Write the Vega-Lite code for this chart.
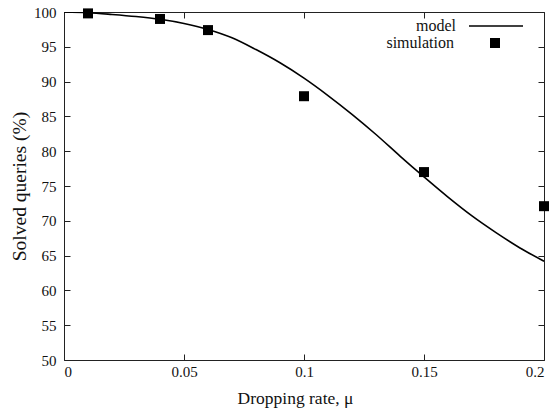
{
  "$schema": "https://vega.github.io/schema/vega-lite/v6.json",
  "autosize": {"type": "none"},
  "padding": {"left": 64, "top": 12, "right": 11, "bottom": 51},
  "width": 480,
  "height": 348,
  "background": "white",
  "config": {
    "font": "Liberation Serif",
    "view": {"stroke": "#222", "strokeWidth": 1},
    "axis": {
      "labelFont": "Liberation Serif",
      "titleFont": "Liberation Serif",
      "labelFontSize": 15,
      "titleFontSize": 17.5,
      "labelColor": "#111",
      "titleColor": "#111",
      "titleFontWeight": "normal",
      "ticks": true,
      "tickColor": "#222",
      "tickWidth": 1,
      "tickOpacity": 1,
      "domain": false,
      "grid": false,
      "tickSize": 6,
      "offset": -6,
      "zindex": 2
    },
    "legend": {"labelFont": "Liberation Serif", "labelFontSize": 16, "labelColor": "#111"}
  },
  "datasets": {
    "model": [
      {"x": 0.0, "y": 100.0, "series": "model"},
      {"x": 0.01, "y": 99.9, "series": "model"},
      {"x": 0.02, "y": 99.65, "series": "model"},
      {"x": 0.03, "y": 99.35, "series": "model"},
      {"x": 0.04, "y": 98.95, "series": "model"},
      {"x": 0.05, "y": 98.35, "series": "model"},
      {"x": 0.06, "y": 97.5, "series": "model"},
      {"x": 0.07, "y": 96.3, "series": "model"},
      {"x": 0.08, "y": 94.6, "series": "model"},
      {"x": 0.09, "y": 92.7, "series": "model"},
      {"x": 0.1, "y": 90.5, "series": "model"},
      {"x": 0.11, "y": 88.0, "series": "model"},
      {"x": 0.12, "y": 85.3, "series": "model"},
      {"x": 0.13, "y": 82.4, "series": "model"},
      {"x": 0.14, "y": 79.3, "series": "model"},
      {"x": 0.15, "y": 76.3, "series": "model"},
      {"x": 0.16, "y": 73.4, "series": "model"},
      {"x": 0.17, "y": 70.7, "series": "model"},
      {"x": 0.18, "y": 68.3, "series": "model"},
      {"x": 0.19, "y": 66.1, "series": "model"},
      {"x": 0.2, "y": 64.2, "series": "model"}
    ],
    "sim": [
      {"x": 0.01, "y": 99.8, "series": "simulation"},
      {"x": 0.04, "y": 99.0, "series": "simulation"},
      {"x": 0.06, "y": 97.4, "series": "simulation"},
      {"x": 0.1, "y": 87.9, "series": "simulation"},
      {"x": 0.15, "y": 77.0, "series": "simulation"},
      {"x": 0.2, "y": 72.1, "series": "simulation"}
    ]
  },
  "layer": [
    {
      "data": {"name": "model"},
      "mark": {"type": "line", "strokeWidth": 1.6, "interpolate": "monotone", "clip": true},
      "encoding": {
        "x": {
          "field": "x", "type": "quantitative",
          "scale": {"domain": [0, 0.2], "nice": false, "zero": false},
          "axis": {"orient": "bottom", "values": [0, 0.05, 0.1, 0.15, 0.2], "format": "~g", "title": "Dropping rate, μ", "labelPadding": 4, "titlePadding": 10, "titleX": 231, "titleAlign": "center"}
        },
        "y": {
          "field": "y", "type": "quantitative",
          "scale": {"domain": [50, 100], "nice": false, "zero": false},
          "axis": {"orient": "left", "values": [50, 55, 60, 65, 70, 75, 80, 85, 90, 95, 100], "title": "Solved queries (%)", "titleFontSize": 19.5, "labelPadding": 8, "titlePadding": 4}
        },
        "stroke": {
          "field": "series", "type": "nominal",
          "scale": {"domain": ["model"], "range": ["black"]},
          "legend": {"orient": "none", "legendX": 404, "legendY": -14, "title": null, "symbolType": "stroke", "symbolSize": 2916, "symbolStrokeWidth": 1.6, "labelAlign": "right", "labelOffset": -68}
        }
      }
    },
    {
      "data": {"name": "sim"},
      "mark": {"type": "point", "shape": "square", "filled": true, "opacity": 1, "size": 100, "color": "black"},
      "encoding": {
        "x": {
          "field": "x", "type": "quantitative",
          "axis": {"orient": "top", "values": [0, 0.05, 0.1, 0.15, 0.2], "labels": false, "title": null}
        },
        "y": {
          "field": "y", "type": "quantitative",
          "axis": {"orient": "right", "values": [50, 55, 60, 65, 70, 75, 80, 85, 90, 95, 100], "labels": false, "title": null}
        },
        "shape": {
          "field": "series", "type": "nominal",
          "scale": {"domain": ["simulation"], "range": ["square"]},
          "legend": {"orient": "none", "legendX": 423, "legendY": 23, "title": null, "symbolSize": 100, "symbolFillColor": "black", "symbolStrokeColor": "black", "symbolOpacity": 1, "labelAlign": "right", "labelOffset": -49}
        }
      }
    }
  ]
}
